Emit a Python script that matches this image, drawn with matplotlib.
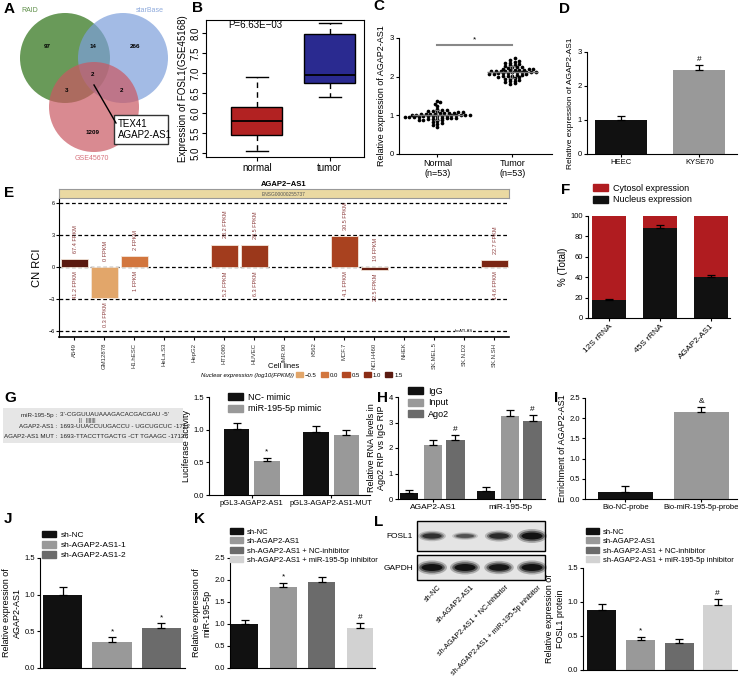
import numpy as np
import matplotlib
matplotlib.use('Agg')
import matplotlib.pyplot as plt
import matplotlib.patches as mpatches
from matplotlib.colors import LinearSegmentedColormap
from matplotlib.ticker import FormatStrFormatter

# ---------------- data ----------------
venn_names = ['RAID', 'starBase', 'GSE45670']
venn_only = [97, 266, 1209]          # RAID, starBase, GSE45670
venn_pairs = [14, 3, 2]              # RAID&starBase, RAID&GSE, starBase&GSE
venn_all = 2
venn_common = ['TEX41', 'AGAP2-AS1']

b_groups = ['normal', 'tumor']
b_q1 = [5.45, 6.75]
b_med = [5.8, 6.95]
b_q3 = [6.15, 7.98]
b_lo = [5.05, 6.4]
b_hi = [6.9, 8.25]
b_p = 'P=6.63E\u221203'

c_groups = ['Normal\n(n=53)', 'Tumor\n(n=53)']
c_normal = [1.38, 1.35, 1.30, 1.25, 1.17, 1.15, 1.14, 1.12, 1.10, 1.10,
            1.08, 1.08, 1.07, 1.06, 1.05, 1.05, 1.04, 1.04, 1.03, 1.03,
            1.02, 1.02, 1.01, 1.01, 1.00, 1.00, 1.00, 0.99, 0.99, 0.98,
            0.98, 0.97, 0.97, 0.96, 0.96, 0.95, 0.95, 0.94, 0.93, 0.93,
            0.92, 0.91, 0.90, 0.90, 0.89, 0.88, 0.87, 0.85, 0.83, 0.80,
            0.78, 0.75, 0.71]
c_tumor = [2.48, 2.42, 2.40, 2.38, 2.36, 2.35, 2.33, 2.30, 2.30, 2.28,
           2.26, 2.25, 2.24, 2.22, 2.21, 2.20, 2.19, 2.18, 2.17, 2.16,
           2.16, 2.15, 2.15, 2.14, 2.14, 2.13, 2.13, 2.12, 2.12, 2.11,
           2.11, 2.10, 2.10, 2.09, 2.08, 2.07, 2.06, 2.05, 2.04, 2.03,
           2.02, 2.01, 2.00, 1.99, 1.97, 1.95, 1.93, 1.92, 1.90, 1.88,
           1.86, 1.83, 1.80]

d_cells = ['HEEC', 'KYSE70']
d_vals = [1.0, 2.48]
d_err = [0.12, 0.15]
d_marks = ['', '#']

nan = np.nan
e_cells = ['A549', 'GM12878', 'H1.hESC', 'HeLa.S3', 'HepG2', 'HT1080', 'HUVEC',
           'IMR.90', 'K562', 'MCF.7', 'NCI.H460', 'NHEK', 'SK.MEL.5', 'SK.N.D2', 'SK.N.SH']
e_rci = [0.72, -2.9, 1.02, nan, nan, 2.08, 2.05, nan, nan, 2.9, -0.25, nan, nan, nan, 0.62]
e_fpkm_cyto = [67.4, 0, 2, nan, nan, 28.2, 28.5, nan, nan, 30.5, 19, nan, nan, nan, 22.7]
e_fpkm_nuc = [41.2, 0.3, 1, nan, nan, 5.2, 6.3, nan, nan, 4.1, 22.5, nan, nan, nan, 14.6]
e_levels = [-0.5, 0.0, 0.5, 1.0, 1.5]
e_level_colors = ['#E2A66A', '#D2763E', '#B24822', '#8C2D16', '#5A1A10']
e_lines = [-6, -3, 0, 3, 6]

f_rnas = ['12S rRNA', '45S rRNA', 'AGAP2-AS1']
f_nucleus = [17.5, 88, 40]
f_err = [1.5, 3.5, 2.5]

g_rows = [('miR-195-5p :', "3'-CGGUUAUAAAGACACGACGAU -5'"),
          ('AGAP2-AS1 :', '1693-UUACCUUGACCU - UGCUGCUC -1712'),
          ('AGAP2-AS1 MUT :', '1693-TTACCTTGACTG -CT TGAAGC -1712')]
g_bonds = '||   |||||||'
g_constructs = ['pGL3-AGAP2-AS1', 'pGL3-AGAP2-AS1-MUT']
g_series = ['NC- mimic', 'miR-195-5p mimic']
g_nc = [1.01, 0.97]
g_nc_err = [0.09, 0.08]
g_mimic = [0.52, 0.92]
g_mimic_err = [0.05, 0.07]
g_mimic_marks = ['*', '']

h_targets = ['AGAP2-AS1', 'miR-195-5p']
h_series = ['IgG', 'Input', 'Ago2']
h_igg = [0.22, 0.32]
h_igg_err = [0.14, 0.16]
h_input = [2.12, 3.25]
h_input_err = [0.18, 0.24]
h_ago2 = [2.3, 3.05]
h_ago2_err = [0.2, 0.25]
h_ago2_marks = ['#', '#']

i_probes = ['Bio-NC-probe', 'Bio-miR-195-5p-probe']
i_vals = [0.18, 2.15]
i_err = [0.14, 0.13]
i_marks = ['', '&']

j_groups = ['sh-NC', 'sh-AGAP2-AS1-1', 'sh-AGAP2-AS1-2']
j_vals = [1.0, 0.36, 0.54]
j_err = [0.1, 0.06, 0.07]
j_marks = ['', '*', '*']

k_groups = ['sh-NC', 'sh-AGAP2-AS1', 'sh-AGAP2-AS1 + NC-inhibitor',
            'sh-AGAP2-AS1 + miR-195-5p inhibitor']
k_vals = [1.0, 1.83, 1.95, 0.92]
k_err = [0.1, 0.1, 0.12, 0.1]
k_marks = ['', '*', '', '#']

l_vals = [0.88, 0.44, 0.40, 0.95]
l_err = [0.09, 0.05, 0.05, 0.09]
l_marks = ['', '*', '', '#']
l_fosl1_band = [0.75, 0.55, 0.8, 1.0]
l_gapdh_band = [1.0, 1.0, 0.95, 1.0]

# ---------------- figure ----------------
W, H = 739, 679
plt.rcParams['font.family'] = ['Liberation Sans', 'DejaVu Sans']
plt.rcParams['axes.linewidth'] = 0.8

fig = plt.figure(figsize=(W / 100, H / 100), dpi=100)


def add_ax(x0, y0, x1, y1):
    return fig.add_axes([x0 / W, 1 - y1 / H, (x1 - x0) / W, (y1 - y0) / H])


def prism(ax, ylim, yticks, fmt=None):
    ax.spines['top'].set_visible(False)
    ax.spines['right'].set_visible(False)
    ax.set_ylim(*ylim)
    ax.set_yticks(yticks)
    if fmt:
        ax.yaxis.set_major_formatter(FormatStrFormatter(fmt))
    ax.tick_params(length=2.5, width=0.8, pad=1, labelsize=5.5)


def bar_err(ax, x, vals, errs, colors, width, marks=None):
    ax.bar(x, vals, width, color=colors, zorder=2)
    ax.errorbar(x, vals, yerr=[np.zeros(len(vals)), errs], fmt='none', ecolor='black',
                elinewidth=0.9, capsize=3, capthick=0.9, zorder=3)
    if marks:
        lo, hi = ax.get_ylim()
        for xi, t, m in zip(x, np.add(vals, errs), marks):
            if m:
                ax.text(xi, t + (hi - lo) * 0.02, m, ha='center', va='bottom', fontsize=6)


def legend(handles, labels, x, y, size=6):
    fig.legend(handles, labels, loc='upper left', bbox_to_anchor=(x / W, 1 - y / H),
               frameon=False, fontsize=size, handlelength=1.7, handleheight=0.8,
               labelspacing=0.25, handletextpad=0.5, borderaxespad=0, borderpad=0)


def swarm(vals, center, bin_w=0.07, step=0.062):
    v = np.sort(np.asarray(vals))
    bins = np.round(v / bin_w)
    xs = np.empty_like(v)
    for b in np.unique(bins):
        idx = np.where(bins == b)[0]
        xs[idx] = center + (np.arange(len(idx)) - (len(idx) - 1) / 2) * step
    return xs, v


# ---- A: Venn ----
axA = add_ax(0, 0, 185, 190)
axA.set_xlim(0, 185)
axA.set_ylim(190, 0)
axA.axis('off')
venn_xy = [(65, 58), (123, 58), (94, 107)]
venn_cols = ['#2A6F13', '#7C9FDB', '#CA5862']
for (cx, cy), col in zip(venn_xy, venn_cols):
    axA.add_patch(mpatches.Circle((cx, cy), 45, color=col, alpha=0.7, lw=0))
for (tx, ty), n in zip([(47, 47), (135, 47), (93, 132)], venn_only):
    axA.text(tx, ty, str(n), fontsize=4.5, fontweight='bold', ha='center', va='center')
for (tx, ty), n in zip([(93, 47), (67, 91), (122, 91)], venn_pairs):
    axA.text(tx, ty, str(n), fontsize=4.5, fontweight='bold', ha='center', va='center')
axA.text(93, 75, str(venn_all), fontsize=4.5, fontweight='bold', ha='center', va='center')
for (tx, ty), name, col in zip([(30, 11), (150, 11), (92, 158)], venn_names,
                                ['#5E8F48', '#8EAADC', '#D7737D']):
    axA.text(tx, ty, name, fontsize=5, color=col, ha='center', va='center')
axA.plot([94, 116], [85, 123], color='black', lw=1)
axA.add_patch(mpatches.Rectangle((114, 115), 54, 29, fc='white', ec='#333', lw=1))
axA.text(118, 129.5, '\n'.join(venn_common), fontsize=7, va='center', ha='left',
         linespacing=1.1)

# ---- B: boxplot ----
axB = add_ax(206, 20, 364, 157)
stats = [dict(med=m, q1=a, q3=b, whislo=lo, whishi=hi, fliers=[], label=g)
         for g, a, m, b, lo, hi in zip(b_groups, b_q1, b_med, b_q3, b_lo, b_hi)]
bp = axB.bxp(stats, positions=[1, 2], widths=0.7, patch_artist=True, showfliers=False,
             capwidths=0.3, boxprops=dict(lw=1), whiskerprops=dict(ls=(0, (4, 3)), lw=1),
             medianprops=dict(color='black', lw=1.3), capprops=dict(lw=1))
for patch, col in zip(bp['boxes'], ['#B22222', '#2A2A90']):
    patch.set_facecolor(col)
axB.set_xlim(0.3, 2.47)
axB.set_ylim(4.9, 8.33)
axB.set_yticks(np.arange(5.0, 8.01, 0.5))
axB.yaxis.set_major_formatter(FormatStrFormatter('%.1f'))
axB.tick_params(labelsize=7, length=3, pad=1)
plt.setp(axB.get_yticklabels(), rotation=90, va='center')
axB.set_ylabel('Expression of FOSL1(GSE45168)', fontsize=7, labelpad=2)
axB.text(0.6, 8.2, b_p, fontsize=7, va='center')

# ---- C: scatter ----
axC = add_ax(399, 38, 552, 154)
prism(axC, (0, 3), [0, 1, 2, 3])
for i, vals in enumerate([c_normal, c_tumor]):
    xs, ys = swarm(vals, i + 1)
    axC.scatter(xs, ys, s=7, color='black', lw=0, zorder=3)
    m, sd = np.mean(vals), np.std(vals, ddof=1)
    axC.hlines(m, i + 1 - 0.34, i + 1 + 0.34, color='#777', lw=1, zorder=4)
    axC.errorbar(i + 1, m, yerr=sd, fmt='none', ecolor='#777', capsize=2.5,
                 elinewidth=0.8, capthick=0.8, zorder=4)
axC.set_xlim(0.49, 2.53)
axC.set_xticks([1, 2])
axC.set_xticklabels(c_groups, fontsize=6.5)
axC.plot([1, 2], [2.82, 2.82], color='#888', lw=1.5)
axC.text(1.5, 2.86, '*', ha='center', va='bottom', fontsize=6)
axC.set_ylabel('Relative expression of AGAP2-AS1', fontsize=6.5, labelpad=3)

# ---- D ----
axD = add_ax(587, 52, 737, 154)
prism(axD, (0, 3), [0, 1, 2, 3])
bar_err(axD, [0, 1], d_vals, d_err, ['#111111', '#999999'], 0.66, d_marks)
axD.set_xlim(-0.43, 1.48)
axD.set_xticks([0, 1])
axD.set_xticklabels(d_cells, fontsize=5.5)
axD.set_ylabel('Relative expression of AGAP2-AS1', fontsize=6, labelpad=3)

# ---- E: lncATLAS ----
axE = add_ax(59, 198, 509, 337)
x = np.arange(len(e_cells))
rci = np.array(e_rci, float)
nuc = np.array(e_fpkm_nuc, float)
cyto = np.array(e_fpkm_cyto, float)
has = ~np.isnan(rci)
cmap = LinearSegmentedColormap.from_list('nuc', e_level_colors)
norm = plt.Normalize(e_levels[0], e_levels[-1])
axE.bar(x[has], rci[has], 0.9, color=[cmap(norm(np.log10(v))) for v in nuc[has]],
        edgecolor='#f3e6da', lw=0.6, zorder=2)
for yv in e_lines:
    axE.axhline(yv, color='black', ls=(0, (3, 2)), lw=0.9, zorder=1)
for xi, r, c, n in zip(x[has], rci[has], cyto[has], nuc[has]):
    axE.text(xi + 0.05, max(r, 0) + 0.6, f'{c:g} FPKM', rotation=90, ha='center',
             va='bottom', fontsize=4, color='#8B3A3A')
    axE.text(xi + 0.05, min(r, 0) - 0.4, f'{n:g} FPKM', rotation=90, ha='center',
             va='top', fontsize=4, color='#8B3A3A')
axE.text(13.0, -6, 'lncATLAS', fontsize=3, ha='center', va='center',
         bbox=dict(fc='white', ec='none', pad=0.3))
axE.set_xlim(-0.5, 14.5)
axE.set_ylim(-6.54, 6.45)
axE.set_yticks(e_lines)
axE.set_xticks(x)
axE.set_xticklabels(e_cells, rotation=90, fontsize=4.3, color='#333')
axE.tick_params(axis='y', labelsize=4, length=2, pad=1)
axE.tick_params(axis='x', length=2, pad=2)
axE.spines['top'].set_visible(False)
axE.spines['right'].set_visible(False)
axE.spines['bottom'].set_linewidth(1.2)
axE.set_ylabel('CN RCI', fontsize=8, labelpad=5)
axE.set_xlabel('Cell lines', fontsize=5.5, va='center')
axE.xaxis.set_label_coords(0.5, -(366 - 337) / 139)
axEh = add_ax(59, 189, 509, 198)
axEh.set_xticks([])
axEh.set_yticks([])
axEh.set_facecolor('#EAD9A2')
for s in axEh.spines.values():
    s.set_color('#999')
axEh.text(0.5, 0.4, 'ENSG00000255737', fontsize=3.5, color='#555', ha='center',
          va='center', transform=axEh.transAxes)
axEh.text(0.5, 1.15, 'AGAP2\u2212AS1', fontsize=5.5, fontweight='bold', ha='center',
          va='bottom', transform=axEh.transAxes)
fig.text(294 / W, 1 - 375 / H, 'Nuclear expression (log10(FPKM))', fontsize=4.3,
         style='italic', ha='right', va='center')
fig.legend([mpatches.Patch(color=cmap(norm(v))) for v in e_levels],
           [f'{v:.1f}'.replace('-', '\u2212') for v in e_levels], ncol=5, loc='center left',
           bbox_to_anchor=(296 / W, 1 - 375 / H), frameon=False, fontsize=4.3,
           handlelength=1.2, handleheight=1.0, columnspacing=0.7, handletextpad=0.3,
           borderaxespad=0, borderpad=0)

# ---- F ----
axF = add_ax(588, 216, 730, 318)
prism(axF, (0, 100), [0, 20, 40, 60, 80, 100])
xf = np.arange(len(f_rnas))
cyto_pct = 100 - np.array(f_nucleus)
axF.bar(xf, f_nucleus, 0.67, color='#111111', zorder=2)
axF.bar(xf, cyto_pct, 0.67, bottom=f_nucleus, color='#B01C20', zorder=2)
axF.errorbar(xf, f_nucleus, yerr=[np.zeros(3), f_err], fmt='none', ecolor='black',
             elinewidth=0.9, capsize=3, capthick=0.9, zorder=3)
axF.set_xlim(-0.41, 2.38)
axF.set_xticks(xf)
axF.set_xticklabels(f_rnas, rotation=45, ha='right', rotation_mode='anchor', fontsize=6)
axF.set_ylabel('% (Total)', fontsize=7, labelpad=2)
legend([mpatches.Patch(color='#B01C20'), mpatches.Patch(color='#111111')],
       ['Cytosol expression', 'Nucleus expression'], 593, 184, 6.5)

# ---- G ----
axG = add_ax(209, 397, 370, 495)
prism(axG, (0, 1.5), [0, 0.5, 1.0, 1.5], '%.1f')
xg = np.arange(len(g_constructs))
bar_err(axG, xg - 0.19, g_nc, g_nc_err, '#111111', 0.32)
bar_err(axG, xg + 0.19, g_mimic, g_mimic_err, '#999999', 0.32, g_mimic_marks)
axG.set_xlim(-0.54, 1.49)
axG.set_xticks(xg)
axG.set_xticklabels(g_constructs, fontsize=5.5)
axG.set_ylabel('Luciferase activity', fontsize=6.5, labelpad=2)
legend([mpatches.Patch(color='#111111'), mpatches.Patch(color='#999999')], g_series,
       228, 393, 6.5)

# ---- H ----
axH = add_ax(398, 397, 545, 499)
prism(axH, (0, 4), [0, 1, 2, 3, 4])
xh = np.arange(len(h_targets))
bar_err(axH, xh - 0.31, h_igg, h_igg_err, '#111111', 0.24)
bar_err(axH, xh, h_input, h_input_err, '#999999', 0.24)
bar_err(axH, xh + 0.29, h_ago2, h_ago2_err, '#6B6B6B', 0.24, h_ago2_marks)
axH.set_xlim(-0.45, 1.45)
axH.set_xticks(xh)
axH.set_xticklabels(h_targets, fontsize=6)
axH.set_ylabel('Relative RNA levels in\nAgo2 RIP vs IgG RIP', fontsize=6.5, labelpad=2)
legend([mpatches.Patch(color=c) for c in ['#111111', '#999999', '#6B6B6B']], h_series,
       408, 387, 6.5)

# ---- I ----
axI = add_ax(585, 398, 737, 499)
prism(axI, (0, 2.5), [0, 0.5, 1.0, 1.5, 2.0, 2.5], '%.1f')
bar_err(axI, [0, 1], i_vals, i_err, ['#111111', '#999999'], 0.72, i_marks)
axI.set_xlim(-0.53, 1.47)
axI.set_xticks([0, 1])
axI.set_xticklabels(i_probes, fontsize=5.5)
axI.set_ylabel('Enrichment of AGAP2-AS1', fontsize=6.5, labelpad=2)

# ---- J ----
axJ = add_ax(40, 558, 185, 668)
prism(axJ, (0, 1.5), [0, 0.5, 1.0, 1.5], '%.1f')
jc = ['#111111', '#999999', '#6B6B6B']
bar_err(axJ, np.arange(3), j_vals, j_err, jc, 0.8, j_marks)
axJ.set_xlim(-0.46, 2.48)
axJ.set_xticks([])
axJ.set_ylabel('Relative expression of\nAGAP2-AS1', fontsize=6.5, labelpad=2)
legend([mpatches.Patch(color=c) for c in jc], j_groups, 42, 531, 6)

# ---- K ----
kc = ['#111111', '#999999', '#6B6B6B', '#D2D2D2']
axK = add_ax(230, 558, 375, 668)
prism(axK, (0, 2.5), [0, 0.5, 1.0, 1.5, 2.0, 2.5], '%.1f')
bar_err(axK, np.arange(4), k_vals, k_err, kc, 0.7, k_marks)
axK.set_xlim(-0.38, 3.39)
axK.set_xticks([])
axK.set_ylabel('Relative expression of\nmiR-195-5p', fontsize=6.5, labelpad=2)
legend([mpatches.Patch(color=c) for c in kc], k_groups, 230, 528, 5.5)

# ---- L ----
axL = add_ax(583, 568, 737, 670)
prism(axL, (0, 1.5), [0, 0.5, 1.0, 1.5], '%.1f')
bar_err(axL, np.arange(4), l_vals, l_err, kc, 0.75, l_marks)
axL.set_xlim(-0.49, 3.5)
axL.set_xticks([])
axL.set_ylabel('Relative expression of\nFOSL1 protein', fontsize=6.5, labelpad=2)
legend([mpatches.Patch(color=c) for c in kc], k_groups, 586, 528, 5.5)

# ---- overlay: letters, sequence table, blot ----
ov = fig.add_axes([0, 0, 1, 1], zorder=10)
ov.set_xlim(0, W)
ov.set_ylim(H, 0)
ov.axis('off')
ov.patch.set_visible(False)
letters = [('A', 4, 9), ('B', 192, 8), ('C', 373, 6), ('D', 559, 9), ('E', 4, 193),
           ('F', 561, 190), ('G', 4, 398), ('H', 377, 398), ('I', 554, 398),
           ('J', 4, 519), ('K', 194, 519), ('L', 374, 522)]
for s, lx, ly in letters:
    ov.text(lx, ly, s, fontsize=11, fontweight='bold', va='center', ha='left')

ov.add_patch(mpatches.Rectangle((3, 408), 180, 35, fc='#E6E6E6', ec='none'))
for (name, seq), ry in zip(g_rows, [415, 426, 437]):
    ov.text(57, ry, name, fontsize=4.5, ha='right', va='center', color='#222')
    ov.text(60, ry, seq, fontsize=4.5, ha='left', va='center', color='#222')
ov.text(79, 420.5, g_bonds, fontsize=3.6, ha='left', va='center', color='#222')

lanes = [432, 465, 499, 532]
for (y0, y1), inten, name, ly in [((521, 551), l_fosl1_band, 'FOSL1', 537),
                                  ((555, 580), l_gapdh_band, 'GAPDH', 568)]:
    ov.add_patch(mpatches.Rectangle((417, y0), 128, y1 - y0, fc='#E4E4E4', ec='black', lw=1))
    ov.text(413, ly, name, fontsize=6, ha='right', va='center')
    yc = (y0 + y1) / 2
    for lx, a in zip(lanes, inten):
        for sw, sh, al in [(1.0, 1.0, 0.25), (0.85, 0.75, 0.45), (0.7, 0.5, 0.8)]:
            ov.add_patch(mpatches.Ellipse((lx, yc), 30 * sw * (0.7 + 0.3 * a),
                                          14 * sh * a, fc='black', alpha=al * a, lw=0))
for lx, name in zip(lanes, k_groups):
    ov.text(lx + 6, 584, name, rotation=45, ha='right', va='top',
            rotation_mode='anchor', fontsize=5.2)

fig.savefig('out.png', dpi=100)
